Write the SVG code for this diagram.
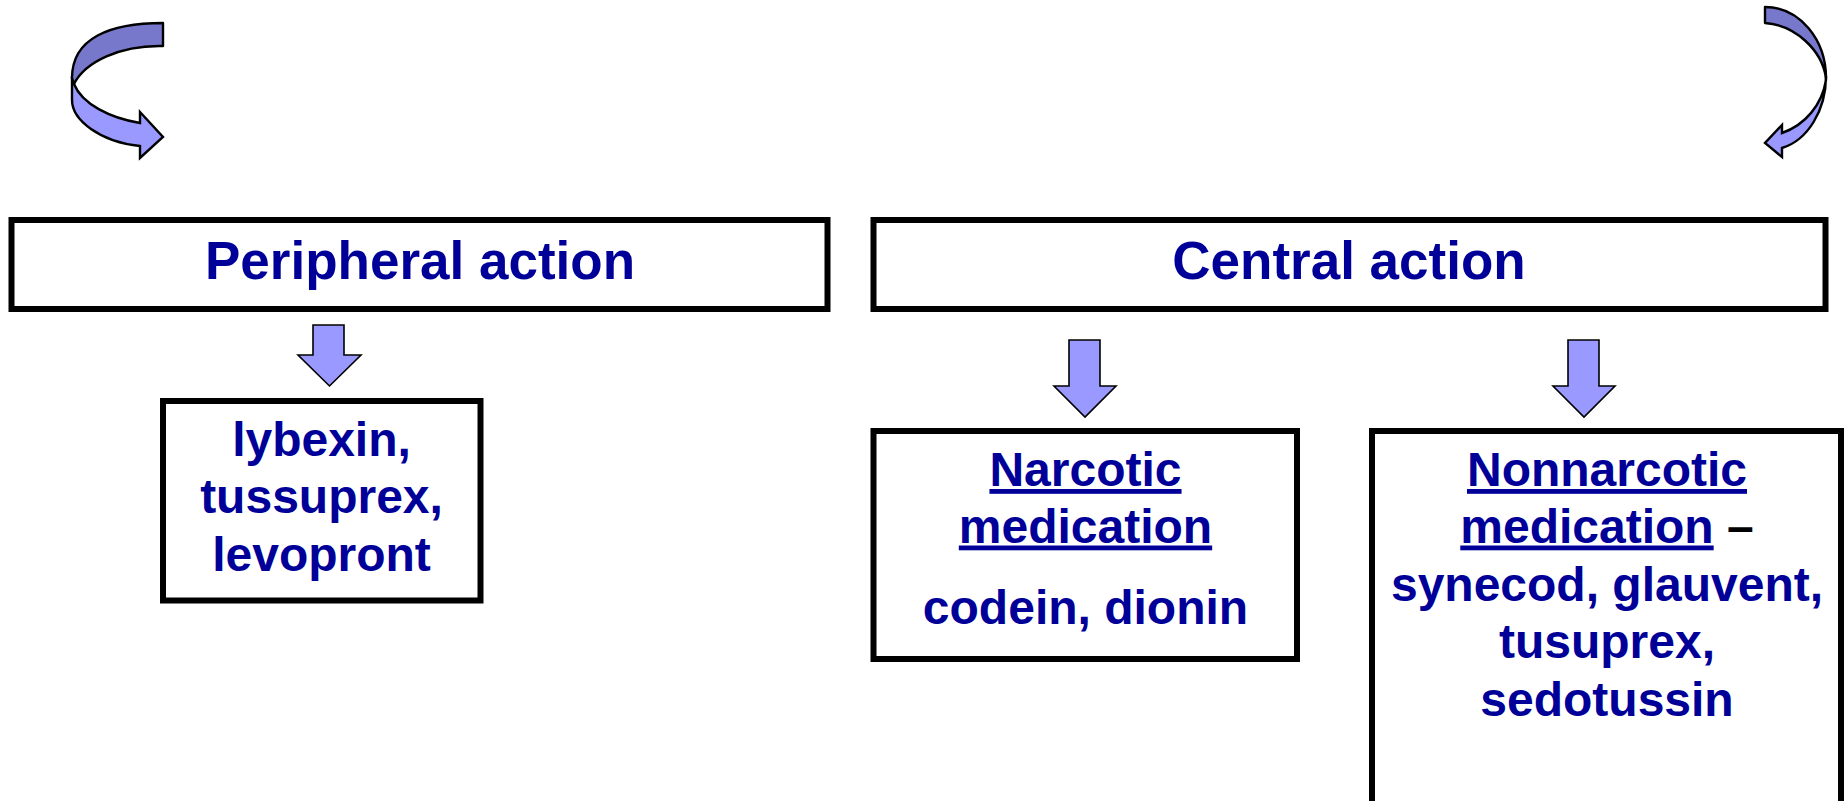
<svg xmlns="http://www.w3.org/2000/svg" width="1846" height="801" viewBox="0 0 1846 801">
<style>
.box{fill:#ffffff;stroke:#000000;stroke-width:6}
.head{font-family:"Liberation Sans",Arial,sans-serif;font-weight:bold;font-size:53px;fill:#000099;text-anchor:middle}
.t{font-family:"Liberation Sans",Arial,sans-serif;font-weight:bold;font-size:48px;fill:#000099;text-anchor:middle}
.u{text-decoration:underline}
.arr{fill:#9999FF;stroke:#000000;stroke-width:1.6;stroke-linejoin:miter}
.dark{fill:#7777CC;stroke:#000000;stroke-width:2.4;stroke-linejoin:round}
.light{fill:#9999FF;stroke:#000000;stroke-width:2.4;stroke-linejoin:miter}
</style>
<rect width="1846" height="801" fill="#ffffff"/>
<g id="connectors">
<g id="curl-left">
<path class="light" d="M72,76 L72,100 C72,120 100,142 140,146 L140,158 L163,137 L140,112 L140,123 C110,118 82,104 74,84 Z"/>
<path class="dark" d="M163,23 L163,46 C120,45 85,62 74,84 L72,78 C72,38 110,23 163,23 Z"/>
</g>
<g id="curl-right">
<path class="light" d="M1826,76 C1826,110 1808,140 1782,148 L1782,157 L1765,143 L1782,125 L1782,133 C1805,125 1822,105 1826,80 Z"/>
<path class="dark" d="M1765,7 L1765,23 C1795,25 1822,50 1826,78 C1826,40 1800,7 1765,7 Z"/>
</g>
<polygon id="arrow-peripheral" class="arr" points="313,325 344,325 344,355 361,355 329.5,386 298,355 313,355"/>
<polygon id="arrow-narcotic" class="arr" points="1069,340 1100,340 1100,386 1116,386 1085,417 1054,386 1069,386"/>
<polygon id="arrow-nonnarcotic" class="arr" points="1568,340 1599,340 1599,386 1615,386 1584,417 1553,386 1568,386"/>
</g>
<g id="peripheral">
<rect class="box" x="11.5" y="220" width="816" height="89"/>
<text class="head" x="420" y="278.5">Peripheral action</text>
</g>
<g id="central">
<rect class="box" x="873.5" y="220" width="952" height="89"/>
<text class="head" x="1349" y="278.5">Central action</text>
</g>
<g id="peripheral-drugs">
<rect class="box" x="163" y="401" width="317.5" height="199.5"/>
<text class="t" x="321.5" y="456">lybexin,</text>
<text class="t" x="321.5" y="513">tussuprex,</text>
<text class="t" x="321.5" y="570.5">levopront</text>
</g>
<g id="narcotic">
<rect class="box" x="873.5" y="431" width="423.5" height="228"/>
<text class="t" x="1085.5" y="486"><tspan class="u">Narcotic</tspan></text>
<text class="t" x="1085.5" y="542.5"><tspan class="u">medication</tspan></text>
<text class="t" x="1085.5" y="624">codein, dionin</text>
</g>
<g id="nonnarcotic">
<rect class="box" x="1372" y="431" width="469" height="400"/>
<text class="t" x="1607" y="486"><tspan class="u">Nonnarcotic</tspan></text>
<text class="t" x="1607" y="542.5"><tspan class="u">medication</tspan> <tspan fill="#000000">–</tspan></text>
<text class="t" x="1607" y="600.5">synecod, glauvent,</text>
<text class="t" x="1607" y="658">tusuprex,</text>
<text class="t" x="1607" y="715.5">sedotussin</text>
</g>
</svg>
